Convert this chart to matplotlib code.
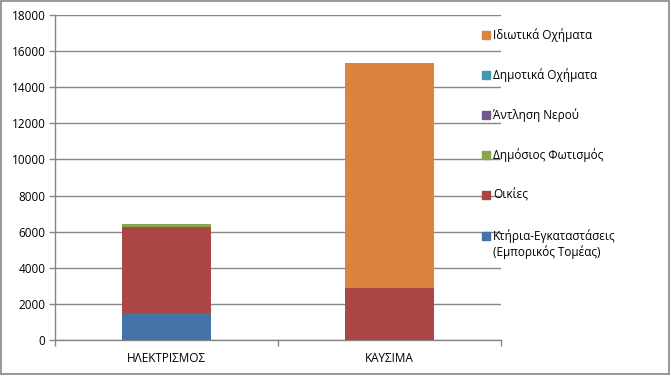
import matplotlib
matplotlib.use("Agg")
import matplotlib.pyplot as plt
from matplotlib.patches import Rectangle
import numpy as np

plt.rcParams['font.family'] = ['Open Sans', 'DejaVu Sans']

categories = ["ΗΛΕΚΤΡΙΣΜΟΣ", "ΚΑΥΣΙΜΑ"]
series_names = ["Κτήρια-Εγκαταστάσεις\n(Εμπορικός Τομέας)", "Οικίες", "Δημόσιος Φωτισμός",
                "Άντληση Νερού", "Δημοτικά Οχήματα", "Ιδιωτικά Οχήματα"]
buildings = [1480, 0]
homes = [4780, 2900]
lighting = [170, 0]
pumping = [0, 0]
municipal = [0, 0]
private = [0, 12450]
colors = ["#4572A7", "#AA4643", "#89A54E", "#71588F", "#4198AF", "#DB843D"]
yticks = [0, 2000, 4000, 6000, 8000, 10000, 12000, 14000, 16000, 18000]

W, H = 671, 376
fig = plt.figure(figsize=(W / 100, H / 100), dpi=100)
ax = fig.add_axes([55 / W, (H - 340) / H, (501 - 55) / W, (340 - 15) / H])

x = np.arange(len(categories))
bottom = np.zeros(len(categories))
for vals, c in zip([buildings, homes, lighting, pumping, municipal, private], colors):
    ax.bar(x, vals, 0.4, bottom=bottom, color=c, zorder=3)
    bottom += np.array(vals)

grid = "#868686"
ax.set_ylim(0, 18000)
ax.set_xlim(-0.5, 1.5)
ax.set_yticks(yticks)
ax.set_yticklabels([str(t) for t in yticks], fontsize=8.5)
ax.yaxis.grid(True, color=grid, linewidth=1, zorder=0)
ax.set_xticks(x)
ax.set_xticklabels(categories, fontsize=8.5)
ax.set_xticks([-0.5, 0.5, 1.5], minor=True)
ax.tick_params(axis='x', which='major', length=0, pad=9)
ax.tick_params(axis='x', which='minor', length=4, color=grid, width=1)
ax.tick_params(axis='y', length=4, color=grid, width=1, pad=3)
for s in ["top", "right"]:
    ax.spines[s].set_visible(False)
for s in ["left", "bottom"]:
    ax.spines[s].set_color(grid)
    ax.spines[s].set_linewidth(1)

# legend drawn by hand, Excel style (marker beside first text line)
leg_y = [236, 195, 155, 115, 75, 35]
for name, c, yy in zip(series_names, colors, leg_y):
    fig.patches.append(Rectangle((482 / W, (H - yy - 4) / H), 8 / W, 8 / H,
                                 transform=fig.transFigure, color=c, zorder=5))
    lines = name.split("\n")
    for i, ln in enumerate(lines):
        fig.text(493 / W, (H - yy - i * 16) / H, ln, fontsize=8.5, va='center', ha='left', zorder=6)

fig.patches.append(Rectangle((0.5 / W, 2.5 / H), 668.5 / W, 373 / H, transform=fig.transFigure,
                             fill=False, edgecolor=grid, linewidth=1.2))

fig.savefig("out.png", dpi=100)
